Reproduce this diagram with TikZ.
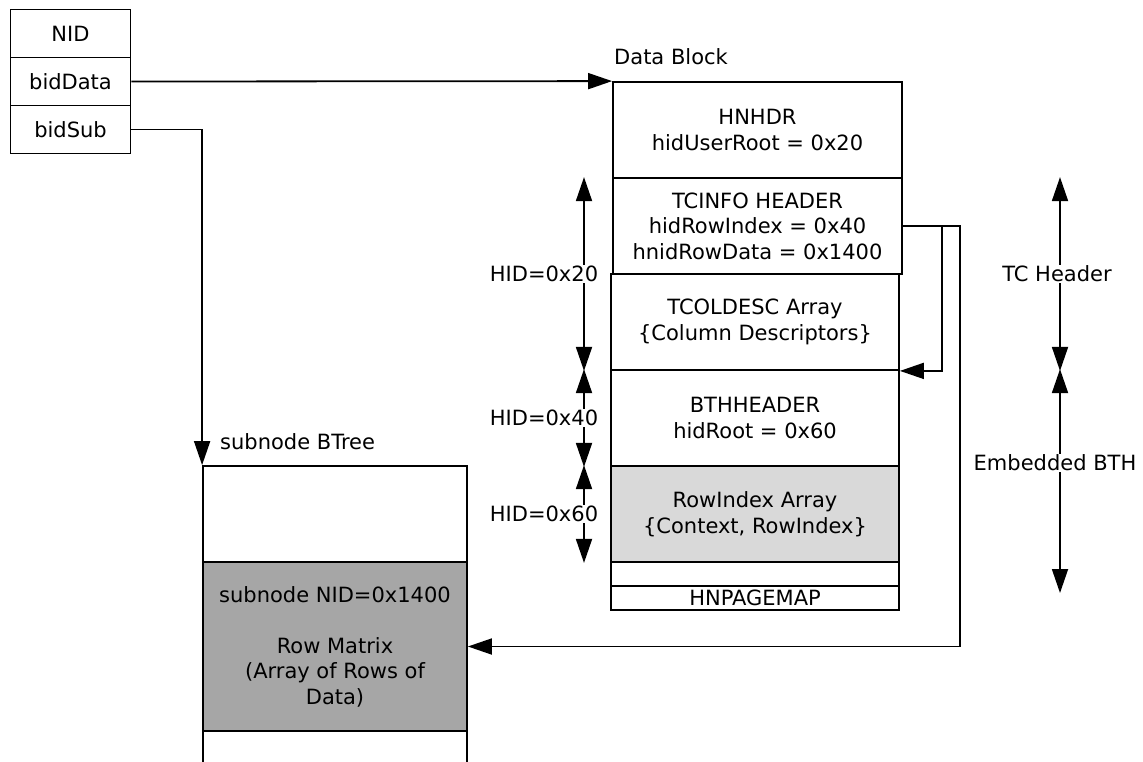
\documentclass[tikz,border=0pt]{standalone}
\usepackage{fontspec}
\setmainfont{DejaVu Sans}
\usetikzlibrary{arrows.meta,positioning}
\definecolor{idxgray}{RGB}{217,217,217}
\definecolor{matgray}{RGB}{166,166,166}
\begin{document}
\begin{tikzpicture}[x=1pt,y=-1pt,font=\fontsize{21}{25.5}\selectfont,
    cell/.style={draw,line width=1.8pt,inner sep=0pt},
    dbcell/.style={cell,minimum width=288pt,align=center},
    subcell/.style={cell,minimum width=264pt,align=center},
    arr/.style={-{Triangle[length=24pt,width=16pt]},line width=1.8pt},
    dim/.style={{Triangle[length=24pt,width=16pt]}-{Triangle[length=24pt,width=16pt]},line width=1.8pt},
    lbl/.style={fill=white,inner sep=1pt}]
            \useasboundingbox (0,0) rectangle (1143,761);
            % node entry
            \foreach \name/\txt [count=\i] in {nid/NID,biddata/bidData,bidsub/bidSub}
                \node[cell,minimum width=120pt,minimum height=48pt] (\name) at (70.5,-14.5+48*\i) {\txt};
            % data block
            \node[right,inner sep=0pt] (dblabel) at (614,57) {Data Block};
            \node[dbcell,minimum width=289pt,minimum height=96pt] (hnhdr) at (757.5,130) {HNHDR\\hidUserRoot = 0x20};
            \node[dbcell,minimum width=289pt,minimum height=96pt] (tcinfo) at (757.5,226) {TCINFO HEADER\\hidRowIndex = 0x40\\hnidRowData = 0x1400};
            \node[dbcell,minimum height=96pt] (tcoldesc) at (755,322) {TCOLDESC Array\\\{Column Descriptors\}};
            \node[dbcell,minimum height=96pt] (bthheader) at (755,418) {BTHHEADER\\hidRoot = 0x60};
            \node[dbcell,minimum height=96pt,fill=idxgray] (rowindex) at (755,514) {RowIndex Array\\\{Context, RowIndex\}};
            \node[cell,minimum width=288pt,minimum height=24pt] (blank) at (755,574) {};
            \node[cell,minimum width=288pt,minimum height=24pt] (hnpagemap) at (755,598) {HNPAGEMAP};
            % subnode btree
            \node[right,inner sep=0pt] (sublabel) at (220,442) {subnode BTree};
            \node[subcell,minimum height=96pt] (subtop) at (335,514) {};
            \node[subcell,minimum height=169pt,fill=matgray] (rowmatrix) at (335,646.5) {subnode NID=0x1400\\[25.5pt]Row Matrix\\(Array of Rows of\\Data)};
            \node[subcell,minimum height=50pt] (subbot) at (335,756) {};
            % pointers
            \draw[arr] (biddata.east) -- (hnhdr.north west);
            \draw[arr] (bidsub.east) -| (subtop.north west);
            \draw[arr] (tcinfo.east) -- ++(39,0) |- (tcoldesc.south east);
            \draw[arr] (tcinfo.east) -- ++(57,0) |- (rowmatrix.east);
            % hid ranges
            \coordinate (hidx) at (584,0);
            \foreach \fromcell/\tocell/\hid in {tcinfo/tcoldesc/20,bthheader/bthheader/40,rowindex/rowindex/60}
                \draw[dim] (\fromcell.north -| hidx) -- node[lbl,xshift=-40pt] (hid\hid) {HID=0x\hid} (\tocell.south -| hidx);
            \coordinate (tcx) at (1060,0);
            \coordinate (bthend) at (1060,593);
            \draw[dim] (tcinfo.north -| tcx) -- node[lbl,xshift=-3pt] (tchdr) {TC Header} (tcoldesc.south -| tcx);
            \draw[dim] (bthheader.north -| tcx) -- node[lbl,pos=0.42,xshift=-5pt] (embbth) {Embedded BTH} (bthend);
        \end{tikzpicture}
\end{document}
